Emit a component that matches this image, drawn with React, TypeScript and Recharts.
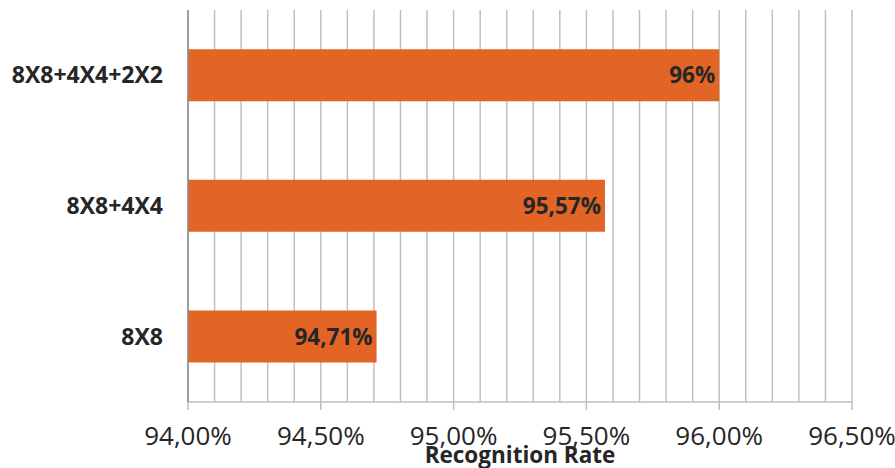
import { BarChart, Bar, XAxis, YAxis, CartesianGrid, LabelList } from "recharts"

const categories = ["8X8+4X4+2X2", "8X8+4X4", "8X8"]
const rates = [96.0, 95.57, 94.71]
const xTicks = [
  94.0, 94.1, 94.2, 94.3, 94.4, 94.5, 94.6, 94.7, 94.8, 94.9,
  95.0, 95.1, 95.2, 95.3, 95.4, 95.5, 95.6, 95.7, 95.8, 95.9,
  96.0, 96.1, 96.2, 96.3, 96.4, 96.5,
]
const majorTicks = [94.0, 94.5, 95.0, 95.5, 96.0, 96.5]

const FONT = "'Open Sans', sans-serif"
const ORANGE = "#E26526"
const GRID = "#BFBFBF"
const TEXT = "#262626"

const data = categories.map((name, i) => ({ name, rate: rates[i] }))

const fmtTick = (v: number) => v.toFixed(2).replace(".", ",") + "%"
const fmtValue = (v: number) =>
  Number.isInteger(v) ? `${v}%` : v.toFixed(2).replace(".", ",") + "%"

function XTick(props: any) {
  const { x, y, payload } = props
  const isMajor = majorTicks.some((m) => Math.abs(m - payload.value) < 1e-6)
  if (!isMajor) return null
  return (
    <g>
      <line x1={x} x2={x} y1={y} y2={y + 8} stroke={GRID} strokeWidth={1.5} />
      <text
        x={x}
        y={y + 43}
        textAnchor="middle"
        fill={TEXT}
        fontFamily={FONT}
        fontSize={26}
      >
        {fmtTick(payload.value)}
      </text>
    </g>
  )
}

export default function App() {
  return (
    <div style={{ width: 895, height: 468, background: "#fff" }}>
      <style>{`body{margin:0}`}</style>
      <BarChart
        width={895}
        height={468}
        data={data}
        layout="vertical"
        margin={{ top: 10, right: 43, left: 0, bottom: 0 }}
        barCategoryGap="30%"
      >
        <CartesianGrid vertical horizontal={false} stroke={GRID} strokeWidth={1.5} />
        <XAxis
          type="number"
          domain={[94, 96.5]}
          ticks={xTicks}
          interval={0}
          height={66}
          axisLine={{ stroke: GRID, strokeWidth: 1.5 }}
          tickLine={false}
          tickSize={0}
          tickMargin={0}
          tick={<XTick />}
          label={{
            value: "Recognition Rate",
            position: "insideBottom",
            offset: 5,
            fill: TEXT,
            fontFamily: FONT,
            fontSize: 22.5,
            fontWeight: 700,
          }}
        />
        <YAxis
          type="category"
          dataKey="name"
          width={188}
          axisLine={{ stroke: "#8C8C8C", strokeWidth: 1.5 }}
          tickLine={false}
          tickSize={0}
          tickMargin={25}
          tick={{ fill: TEXT, fontFamily: FONT, fontSize: 23, fontWeight: 700 }}
        />
        <Bar dataKey="rate" fill={ORANGE} isAnimationActive={false}>
          <LabelList
            dataKey="rate"
            position="insideRight"
            offset={4}
            formatter={(v: any) => fmtValue(Number(v))}
            fill={TEXT}
            fontFamily={FONT}
            fontSize={22.5}
            fontWeight={700}
          />
        </Bar>
      </BarChart>
    </div>
  )
}
